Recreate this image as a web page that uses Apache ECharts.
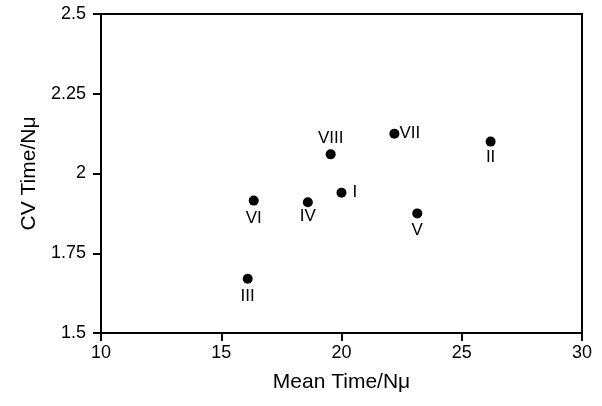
<!DOCTYPE html>
<html>
<head>
<meta charset="utf-8">
<script src="https://cdn.jsdelivr.net/npm/echarts@6/dist/echarts.min.js"></script>
<style>html,body{margin:0;padding:0;background:#fff}#c{width:602px;height:406px}</style>
</head>
<body>
<div id="c"></div>
<script>
const names = ['I', 'II', 'III', 'IV', 'V', 'VI', 'VII', 'VIII'];
const meanTime = [20.0, 26.2, 16.1, 18.6, 23.15, 16.35, 22.2, 19.55];
const cvTime = [1.94, 2.10, 1.67, 1.91, 1.875, 1.915, 2.125, 2.06];
const xTicks = [10, 15, 20, 25, 30];
const yTicks = [1.5, 1.75, 2, 2.25, 2.5];

const labelStyle = {
  'I': {position: 'right', distance: 6},
  'II': {position: 'bottom', distance: 2},
  'III': {position: 'bottom', distance: 4},
  'IV': {position: 'bottom', distance: 1},
  'V': {position: 'bottom', distance: 3},
  'VI': {position: 'bottom', distance: 4},
  'VII': {position: 'right', distance: 0},
  'VIII': {position: 'top', distance: 3}
};

const FONT = 'Liberation Sans, Arial, sans-serif';
const chart = echarts.init(document.getElementById('c'), null, {renderer: 'canvas'});
const data = names.map((n, i) => ({
  name: n,
  value: [meanTime[i], cvTime[i]],
  label: Object.assign({show: true, formatter: n}, labelStyle[n])
}));

const xMin = xTicks[0], xMax = xTicks[xTicks.length - 1];
const yMin = yTicks[0], yMax = yTicks[yTicks.length - 1];

chart.setOption({
  animation: false,
  backgroundColor: '#fff',
  grid: {left: 101, right: 20, top: 14, bottom: 73},
  xAxis: [{
    type: 'value', position: 'bottom', min: xMin, max: xMax, interval: 5,
    name: 'Mean Time/N\u03bc', nameLocation: 'middle', nameGap: 39,
    nameTextStyle: {fontFamily: FONT, fontSize: 21, color: '#000'},
    axisLine: {show: true, onZero: false, lineStyle: {color: '#000', width: 2}},
    axisTick: {show: true, length: 8, lineStyle: {color: '#000', width: 2}},
    axisLabel: {fontFamily: FONT, fontSize: 18, color: '#000', margin: 11},
    splitLine: {show: false}
  }, {
    type: 'value', position: 'top', min: xMin, max: xMax, interval: 5,
    axisLine: {show: true, onZero: false, lineStyle: {color: '#000', width: 2}},
    axisTick: {show: false}, axisLabel: {show: false}, splitLine: {show: false}
  }],
  yAxis: [{
    type: 'value', position: 'left', min: yMin, max: yMax, interval: 0.25,
    name: 'CV Time/N\u03bc', nameLocation: 'middle', nameGap: 58,
    nameTextStyle: {fontFamily: FONT, fontSize: 21, color: '#000'},
    axisLine: {show: true, onZero: false, lineStyle: {color: '#000', width: 2}},
    axisTick: {show: true, length: 8, lineStyle: {color: '#000', width: 2}},
    axisLabel: {fontFamily: FONT, fontSize: 18, color: '#000', margin: 15},
    splitLine: {show: false}
  }, {
    type: 'value', position: 'right', min: yMin, max: yMax, interval: 0.25,
    axisLine: {show: true, onZero: false, lineStyle: {color: '#000', width: 2}},
    axisTick: {show: false}, axisLabel: {show: false}, splitLine: {show: false}
  }],
  series: [{
    type: 'scatter',
    xAxisIndex: 0, yAxisIndex: 0,
    symbol: 'circle',
    symbolSize: 10,
    itemStyle: {color: '#000', opacity: 1},
    label: {color: '#000', fontFamily: FONT, fontSize: 17},
    data: data
  }]
});
</script>
</body>
</html>
